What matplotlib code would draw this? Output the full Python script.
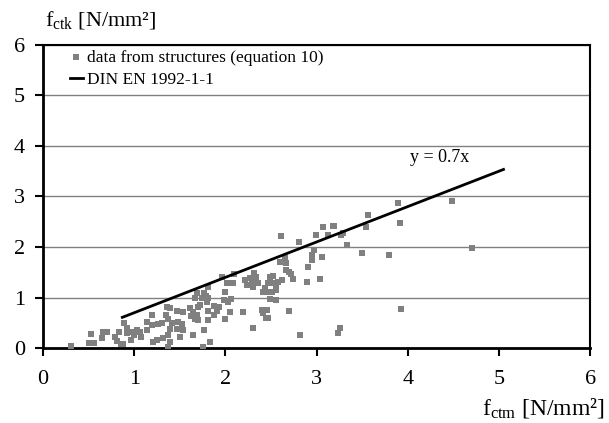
import matplotlib.pyplot as plt

plt.rcParams['font.family'] = ['Liberation Serif', 'DejaVu Serif']
plt.rcParams['mathtext.fontset'] = 'stix'

# points: f_ctm (x) and f_ctk (y) in N/mm2
f_ctm = [0.31, 0.53, 0.50, 0.56, 0.66, 0.70, 0.65, 0.83, 0.79, 0.81, 0.86, 0.88,
         0.89, 0.92, 0.92, 0.97, 1.00, 0.96, 1.03, 1.06, 1.08, 1.14, 1.14, 1.20,
         1.19, 1.21, 1.26, 1.25, 1.30, 1.32, 1.35, 1.36, 1.39, 1.37, 1.41, 1.39,
         1.37, 1.39, 1.37, 1.47, 1.48, 1.47, 1.53, 1.52, 1.54, 1.50, 1.61, 1.62,
         1.65, 1.67, 1.69, 1.64, 1.70, 1.70, 1.67, 1.69, 1.72, 1.74, 1.77, 1.79,
         1.81, 1.80, 1.81, 1.81, 1.77, 1.76, 1.83, 1.81, 1.88, 1.91, 1.88, 1.93,
         1.96, 1.98, 2.00, 2.00, 2.02, 2.03, 2.06, 2.05, 2.08, 2.10, 2.19, 2.22,
         2.24, 2.27, 2.29, 2.30, 2.31, 2.34, 2.36, 2.30, 2.40, 2.41, 2.43, 2.41,
         2.45, 2.49, 2.51, 2.51, 2.61, 2.60, 2.63, 2.65, 2.66, 2.52, 2.47, 2.48,
         2.56, 2.58, 2.55, 2.62, 2.67, 2.70, 2.72, 2.74, 2.49, 2.56, 2.46, 2.47,
         2.70, 2.81, 2.82, 2.89, 2.91, 2.95, 2.95, 2.97, 2.99, 3.04, 3.06, 3.07,
         3.12, 3.18, 3.26, 3.24, 3.27, 3.33, 3.50, 3.56, 3.54, 3.89, 3.92, 4.48,
         3.79, 4.70, 3.93, 3.29, 3.19]
f_ctk = [0.04, 0.28, 0.10, 0.10, 0.32, 0.32, 0.20, 0.32, 0.22, 0.14, 0.08, 0.08,
         0.50, 0.40, 0.30, 0.32, 0.26, 0.16, 0.36, 0.32, 0.22, 0.36, 0.52, 0.66,
         0.46, 0.12, 0.48, 0.16, 0.50, 0.20, 0.66, 0.82, 0.79, 0.57, 0.49, 0.37,
         0.26, 0.12, 0.02, 0.73, 0.52, 0.38, 0.71, 0.47, 0.36, 0.22, 0.79, 0.63,
         0.71, 0.57, 0.65, 0.26, 0.55, 0.81, 1.00, 1.09, 0.85, 1.00, 1.09, 1.03,
         1.00, 0.91, 0.73, 0.55, 0.36, 0.02, 0.12, 1.21, 0.83, 0.73, 0.65, 0.81,
         1.41, 0.95, 0.57, 1.11, 1.29, 0.91, 0.97, 0.71, 1.29, 1.47, 0.71, 1.35,
         1.25, 1.39, 1.31, 1.21, 1.49, 1.41, 1.29, 0.40, 0.75, 1.11, 1.19, 0.69,
         0.59, 1.41, 1.29, 1.11, 2.22, 1.70, 1.70, 1.78, 1.68, 1.43, 1.29, 1.11,
         1.25, 1.31, 1.15, 1.35, 1.54, 1.50, 1.47, 1.37, 0.97, 0.95, 0.75, 0.59,
         0.73, 2.10, 0.26, 1.31, 1.60, 1.74, 1.84, 1.94, 2.24, 1.37, 1.80, 2.39,
         2.24, 2.42, 0.40, 0.30, 2.24, 2.04, 1.88, 2.63, 2.40, 2.87, 2.47, 2.91,
         1.84, 1.98, 0.77, 2.28, 2.41]

# DIN EN 1992-1-1 line y = 0.7x
din_x = [0.87, 5.05]
din_y = [0.7 * v for v in din_x]

fig = plt.figure(figsize=(6.09, 4.23), dpi=100)
ax = fig.add_axes([0.0706, 0.177, 0.8984, 0.717])

ax.scatter(f_ctm, f_ctk, marker='s', s=16, color='#808080', linewidths=0,
           label='data from structures (equation 10)', zorder=3)
ax.plot(din_x, din_y, color='black', lw=2, label='DIN EN 1992-1-1', zorder=4)

ax.set_xlim(0, 6)
ax.set_ylim(0, 6)
ax.set_xticks(range(7))
ax.set_yticks(range(7))
ax.tick_params(direction='out', length=6, width=1.5, labelsize=16, colors='black')
ax.tick_params(axis='x', pad=10)
ax.tick_params(axis='y', pad=7)
ax.yaxis.grid(True, color='#808080', lw=1)
ax.set_axisbelow(True)
for side in ['left', 'bottom']:
    ax.spines[side].set_linewidth(2)
for side in ['top', 'right']:
    ax.spines[side].set_linewidth(1.5)

ax.text(4.35, 3.6, 'y = 0.7x', fontsize=13, ha='center', va='bottom')

fig.text(0.074, 0.953, r'$\mathregular{f_{ctk}}$ [N/mm²]', fontsize=16,
         ha='left', va='center')
fig.text(0.993, 0.035, r'$\mathregular{f_{ctm}}$ [N/mm²]', fontsize=17,
         ha='right', va='center')

ax.legend(loc='upper left', frameon=False, fontsize=12.5, handlelength=0.75,
          handletextpad=0.25, labelspacing=0.35, borderaxespad=0, borderpad=0,
          bbox_to_anchor=(0.049, 0.985))

fig.savefig('out.png', dpi=100)
